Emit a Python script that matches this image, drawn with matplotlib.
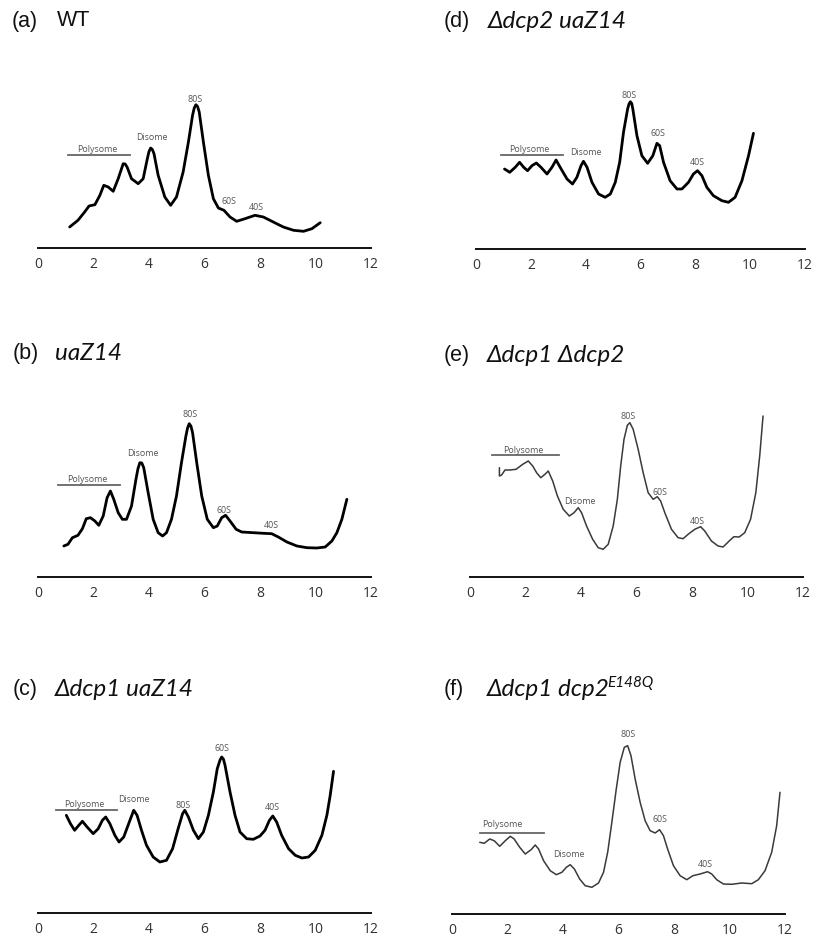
import matplotlib
matplotlib.use("Agg")
import matplotlib.pyplot as plt

# ---------------- data (x = fraction position, y = A254 in arbitrary units) -------------
wt_x = [1.14, 1.44, 1.68, 1.84, 2.05, 2.23, 2.37, 2.53, 2.71, 2.89, 3.07, 3.14, 3.21, 3.37, 3.61,
        3.79, 3.94, 4.00, 4.06, 4.12, 4.18, 4.33, 4.57, 4.78, 4.99, 5.23, 5.42, 5.57, 5.63, 5.69,
        5.75, 5.81, 5.96, 6.14, 6.32, 6.50, 6.70, 6.92, 7.16, 7.46, 7.82, 8.12, 8.48, 8.84,
        9.21, 9.57, 9.87, 10.17]
wt_y = [21.0, 27.7, 36.0, 42.0, 43.3, 52.7, 62.7, 61.0, 56.7, 69.3, 84.3, 84.0, 81.0, 69.3, 64.3,
        69.3, 89.3, 96.5, 100.0, 98.5, 94.3, 72.7, 51.0, 42.7, 51.0, 76.0, 106.0, 132.7, 140.0, 143.3,
        141.5, 136.0, 106.0, 72.7, 49.3, 40.0, 37.7, 31.0, 26.7, 29.3, 32.7, 31.0, 26.0, 21.0,
        17.7, 16.7, 19.3, 25.3]

uaz_x = [0.93, 1.08, 1.24, 1.44, 1.60, 1.74, 1.89, 2.05, 2.19, 2.35, 2.49, 2.61, 2.73, 2.89,
         3.04, 3.19, 3.37, 3.53, 3.60, 3.67, 3.74, 3.81, 3.97, 4.15, 4.33, 4.49, 4.63, 4.81, 4.99,
         5.17, 5.33, 5.39, 5.45, 5.51, 5.57, 5.72, 5.90, 6.10, 6.32, 6.46, 6.62, 6.76, 6.92, 7.14,
         7.34, 7.76, 8.12, 8.42, 8.66, 8.97, 9.33, 9.69, 10.05, 10.35, 10.59, 10.77, 10.95, 11.13]
uaz_y = [31.0, 32.7, 39.3, 41.7, 48.3, 58.3, 59.3, 56.0, 51.7, 61.0, 79.3, 86.0, 77.7, 64.3,
         57.7, 57.7, 71.0, 97.7, 108.0, 114.3, 114.0, 109.3, 84.3, 57.7, 44.3, 41.0, 44.3, 57.7, 81.0,
         114.3, 141.0, 149.0, 153.3, 151.0, 144.3, 114.3, 81.0, 57.7, 49.3, 51.0, 59.3, 61.7, 56.0, 47.7,
         45.0, 44.3, 43.7, 43.3, 40.0, 35.0, 31.0, 29.3, 29.0, 30.0, 36.0, 44.3, 57.7, 77.7]

dcp1_x = [1.02, 1.17, 1.32, 1.47, 1.60, 1.77, 1.99, 2.17, 2.32, 2.44, 2.59, 2.77, 2.92, 3.09,
          3.29, 3.45, 3.57, 3.73, 3.91, 4.15, 4.39, 4.63, 4.85, 5.05, 5.21, 5.29, 5.42, 5.60,
          5.78, 5.96, 6.14, 6.32, 6.46, 6.56, 6.62, 6.68, 6.74, 6.92, 7.10, 7.28, 7.52, 7.76, 8.00,
          8.18, 8.34, 8.46, 8.60, 8.78, 9.03, 9.27, 9.51, 9.75, 9.99, 10.23, 10.41, 10.53, 10.65]
dcp1_y = [97.7, 89.3, 82.7, 87.7, 91.7, 86.0, 79.3, 84.3, 92.7, 96.0, 89.3, 77.7, 71.0, 76.0,
          91.0, 102.7, 97.7, 82.7, 67.7, 56.0, 51.0, 52.7, 64.3, 84.3, 99.3, 102.7, 96.0, 82.7,
          74.3, 81.0, 97.7, 121.0, 144.3, 153.0, 156.0, 154.0, 147.7, 121.0, 97.7, 81.0, 74.3, 73.7, 77.0,
          82.7, 92.7, 97.0, 91.0, 77.7, 64.3, 57.7, 55.0, 56.0, 62.7, 77.7, 97.7, 117.7, 141.7]

dcp2_x = [1.04, 1.23, 1.43, 1.59, 1.74, 1.88, 2.04, 2.20, 2.37, 2.59, 2.77, 2.92, 3.07, 3.32,
          3.52, 3.68, 3.83, 3.92, 4.05, 4.23, 4.47, 4.71, 4.90, 5.08, 5.24, 5.38, 5.53, 5.58, 5.63,
          5.68, 5.72, 5.87, 6.05, 6.26, 6.45, 6.60, 6.70, 6.84, 7.08, 7.33, 7.51, 7.75, 7.93, 8.08,
          8.24, 8.42, 8.66, 8.97, 9.21, 9.45, 9.70, 9.94, 10.12]
dcp2_y = [80.0, 76.7, 81.7, 86.7, 81.7, 78.3, 83.3, 86.0, 81.7, 75.0, 81.7, 89.0, 81.7, 70.0,
          65.0, 71.7, 83.3, 87.7, 81.7, 66.7, 55.0, 51.7, 55.0, 66.7, 86.7, 116.7, 140.0, 145.0, 147.3,
          145.5, 140.0, 113.3, 93.3, 85.7, 93.3, 105.7, 103.3, 86.7, 68.3, 60.0, 60.0, 66.7, 75.0, 78.3,
          73.3, 61.7, 53.3, 48.3, 46.7, 51.7, 68.3, 93.3, 115.7]

dd_x = [1.06, 1.06, 1.14, 1.26, 1.44, 1.66, 1.90, 2.10, 2.26, 2.40, 2.55, 2.70, 2.82, 2.98,
        3.15, 3.36, 3.58, 3.75, 3.90, 4.02, 4.20, 4.42, 4.62, 4.80, 4.98, 5.16, 5.31, 5.43,
        5.55, 5.67, 5.76, 5.88, 6.06, 6.24, 6.42, 6.60, 6.75, 6.87, 7.02, 7.26, 7.50, 7.68,
        7.86, 8.10, 8.31, 8.46, 8.70, 8.94, 9.12, 9.34, 9.51, 9.70, 9.90, 10.11, 10.30, 10.44, 10.56]
dd_y = [109.3, 101.0, 102.0, 107.0, 107.0, 107.7, 112.7, 116.0, 111.0, 104.3, 99.3, 102.7, 106.0, 96.0,
        81.0, 67.7, 61.0, 64.3, 69.3, 64.3, 51.0, 37.7, 29.3, 27.7, 32.7, 51.0, 77.7, 111.0,
        137.7, 151.7, 154.3, 147.7, 127.7, 104.3, 84.3, 77.7, 80.3, 76.0, 64.3, 47.7, 39.3, 38.3,
        42.7, 47.7, 50.3, 46.0, 36.0, 31.0, 30.0, 36.0, 40.3, 40.0, 44.3, 57.7, 84.3, 121.0, 161.0]

e148_x = [1.00, 1.16, 1.36, 1.52, 1.72, 1.92, 2.10, 2.24, 2.44, 2.64, 2.85, 3.00, 3.12, 3.30,
          3.54, 3.76, 3.96, 4.12, 4.26, 4.41, 4.60, 4.80, 5.04, 5.28, 5.46, 5.61, 5.76, 5.92,
          6.06, 6.21, 6.33, 6.45, 6.60, 6.78, 6.96, 7.14, 7.32, 7.48, 7.62, 7.77, 7.98, 8.22,
          8.46, 8.68, 8.94, 9.21, 9.36, 9.54, 9.78, 10.08, 10.44, 10.80, 11.04, 11.28, 11.52, 11.70, 11.82]
e148_y = [71.7, 70.7, 75.0, 73.3, 67.7, 73.3, 77.7, 75.0, 66.7, 60.0, 64.3, 69.0, 65.0, 53.3,
          43.3, 39.3, 41.7, 46.7, 49.3, 45.0, 35.0, 28.3, 26.7, 31.0, 41.7, 61.7, 91.7, 125.0,
          151.7, 166.7, 168.3, 158.3, 135.0, 111.7, 93.3, 83.3, 81.0, 84.3, 78.3, 65.0, 48.3, 38.3,
          34.3, 38.3, 40.0, 42.3, 40.0, 34.3, 30.0, 29.7, 31.0, 30.3, 34.3, 43.3, 61.7, 88.3, 121.7]

tick_values = [0, 2, 4, 6, 8, 10, 12]
tick_labels = ["0", "2", "4", "6", "8", "10", "12"]

# ---------------- layout (pixel geometry of each panel) -------------
W, Hfig = 819, 937
fig = plt.figure(figsize=(W / 100, Hfig / 100), dpi=100)
fig.patch.set_facecolor("white")

AX_H = 200
ann_font = ["Open Sans", "DejaVu Sans"]
ann_col = "#555555"


def make_panel(x0, x12, yax, xs, ys, color, lw, labels, poly):
    ax = fig.add_axes([x0 / W, (Hfig - yax) / Hfig, (x12 - x0) / W, AX_H / Hfig])
    ax.set_xlim(0, 12)
    ax.set_ylim(0, AX_H)
    ax.set_facecolor("none")
    for s in ("top", "right", "left"):
        ax.spines[s].set_visible(False)
    ax.spines["bottom"].set_linewidth(1.4)
    ax.spines["bottom"].set_color("#111111")
    ax.set_yticks([])
    ax.set_xticks(tick_values)
    ax.set_xticklabels(tick_labels, fontsize=10, color="#333333",
                       family=["Open Sans", "DejaVu Sans"])
    ax.tick_params(axis="x", length=0, pad=6)
    ax.plot(xs, ys, color=color, lw=lw, solid_joinstyle="round", solid_capstyle="round")
    px0, px1, py = poly
    ax.plot([px0, px1], [py, py], color="#666666", lw=1.3)
    for txt, tx, ty in labels:
        ax.text(tx, ty, txt, fontsize=6.4, color=ann_col, family=ann_font,
                ha="center", va="center")
    return ax


make_panel(38, 371, 249, wt_x, wt_y, "black", 2.0,
           [("Polysome", 2.14, 99.3), ("Disome", 4.12, 111), ("80S", 5.66, 149.3),
            ("60S", 6.87, 47.7), ("40S", 7.88, 42)], (1.08, 3.31, 92.7))
make_panel(38, 371, 578, uaz_x, uaz_y, "black", 2.0,
           [("Polysome", 1.77, 98.3), ("Disome", 3.77, 124.3), ("80S", 5.48, 163.7),
            ("60S", 6.70, 67.7), ("40S", 8.39, 52.7)], (0.72, 2.97, 92))
make_panel(38, 371, 914, dcp1_x, dcp1_y, "black", 2.0,
           [("Polysome", 1.68, 109.3), ("Disome", 3.45, 114.3), ("80S", 5.23, 108.3),
            ("60S", 6.62, 165), ("40S", 8.46, 106.7)], (0.64, 2.85, 102.7))
make_panel(476, 805, 250, dcp2_x, dcp2_y, "black", 2.0,
           [("Polysome", 1.96, 100), ("Disome", 3.99, 97.3), ("80S", 5.57, 154),
            ("60S", 6.62, 116.7), ("40S", 8.06, 87.7)], (0.91, 3.17, 94))
make_panel(470, 803, 578, dd_x, dd_y, "#3a3a3a", 1.1,
           [("Polysome", 1.92, 127.7), ("Disome", 3.96, 76.7), ("80S", 5.70, 161.7),
            ("60S", 6.84, 85), ("40S", 8.19, 56)], (0.78, 3.22, 121.7))
make_panel(452, 785, 915, e148_x, e148_y, "#3a3a3a", 1.1,
           [("Polysome", 1.80, 90), ("Disome", 4.20, 60), ("80S", 6.36, 180.7),
            ("60S", 7.50, 95), ("40S", 9.12, 50)], (1.00, 3.33, 80.7))

# ---------------- titles -------------
title_font = ["Liberation Sans", "DejaVu Sans"]
gene_font = ["Lato", "DejaVu Sans"]
fig.canvas.draw()
renderer = fig.canvas.get_renderer()


def title(xpx, ypx, letter, xgene, pieces):
    """pieces: list of (text, size, dy_px)"""
    fig.text(xpx / W, 1 - ypx / Hfig, letter, fontsize=15.5, family=title_font,
             ha="left", va="center", color="#111111")
    x = xgene
    for txt, size, dy in pieces:
        t = fig.text(x / W, 1 - (ypx + dy) / Hfig, txt, fontsize=size, family=gene_font,
                     style="italic", ha="left", va="center", color="#111111")
        bb = t.get_window_extent(renderer=renderer)
        x = x + bb.width - 3


fig.text(12 / W, 1 - 21 / Hfig, "(a)", fontsize=15.5, family=title_font, ha="left",
         va="center", color="#111111")
fig.text(57 / W, 1 - 21 / Hfig, "WT", fontsize=15.5, family=title_font, ha="left",
         va="center", color="#111111")
title(13, 354, "(b)", 55, [("uaZ14", 17.5, 0)])
title(13, 689, "(c)", 55, [("Δdcp1 uaZ14", 17.5, 0)])
title(444, 21, "(d)", 488, [("Δdcp2 uaZ14", 17.5, 0)])
title(444, 356, "(e)", 487, [("Δdcp1 Δdcp2", 17.5, 0)])
title(444, 689, "(f)", 487, [("Δdcp1 dcp2", 17.5, 0), ("E148Q", 11, -6)])

fig.savefig("out.png", dpi=100, facecolor="white")
